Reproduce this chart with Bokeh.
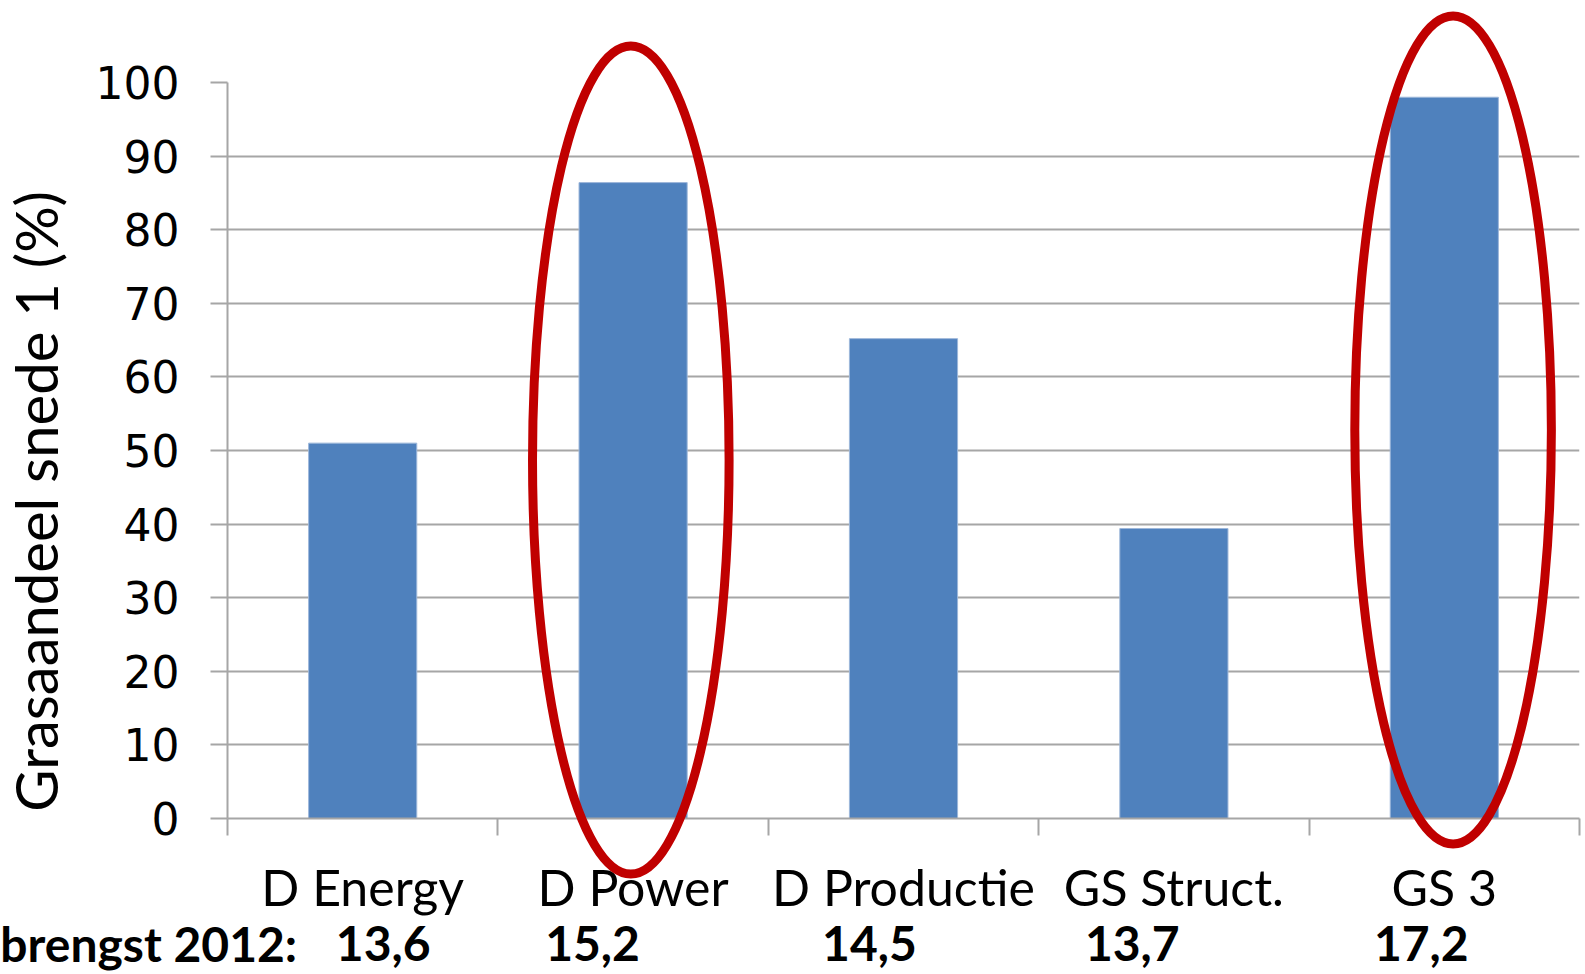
import math
from bokeh.plotting import figure
from bokeh.models import Range1d, FixedTicker, CustomJSTickFormatter
from bokeh.embed import file_html
from bokeh.resources import INLINE
from bokeh.core.properties import value

# ---- data ----
categories = ["D Energy", "D Power", "D Productie", "GS Struct.", "GS 3"]
grass_share = [51.0, 86.4, 65.2, 39.4, 98.0]          # Grasaandeel snede 1 (%)
yield_2012 = ["13,6", "15,2", "14,5", "13,7", "17,2"]  # opbrengst 2012
yield_title = "brengst 2012:"
y_ticks = [0, 10, 20, 30, 40, 50, 60, 70, 80, 90, 100]
highlighted = ["D Power", "GS 3"]
y_title = "Grasaandeel snede 1 (%)"

# ---- layout / style constants ----
W, H = 1585, 974
BLUE = "#4F81BD"
RED = "#C00000"
GRID = "#A6A6A6"
CAT_FONT = "Lato"

idx = {c: i for i, c in enumerate(categories)}
centers = [i + 0.5 for i in range(len(categories))]

p = figure(width=W, height=H, x_range=Range1d(0, 5), y_range=Range1d(0, 100),
           output_backend="svg", toolbar_location=None,
           min_border_left=227, min_border_right=6, min_border_top=82,
           min_border_bottom=156)
p.outline_line_color = None
p.background_fill_color = "white"
p.border_fill_color = "white"

# grid
p.xgrid.visible = False
p.ygrid.ticker = FixedTicker(ticks=y_ticks)
p.ygrid.grid_line_color = GRID
p.ygrid.grid_line_width = 2

# y axis
yax = p.yaxis[0]
yax.ticker = FixedTicker(ticks=y_ticks)
yax.bounds = (0, 100)
yax.axis_line_color = GRID
yax.axis_line_width = 2
yax.major_tick_out = 17
yax.major_tick_in = 0
yax.major_tick_line_color = GRID
yax.major_tick_line_width = 2
yax.minor_tick_line_color = None
yax.major_label_text_font = "DejaVu Sans"
yax.major_label_text_font_size = "44px"
yax.major_label_text_color = "black"
yax.major_label_standoff = 31

# x axis
xax = p.xaxis[0]
xax.ticker = FixedTicker(ticks=centers, minor_ticks=list(range(len(categories) + 1)))
xax.formatter = CustomJSTickFormatter(args=dict(labels=categories),
                                      code="return labels[Math.floor(tick)] || ''")
xax.axis_line_color = GRID
xax.axis_line_width = 2
xax.major_tick_out = 0
xax.major_tick_in = 0
xax.minor_tick_out = 17
xax.minor_tick_in = 0
xax.minor_tick_line_color = GRID
xax.minor_tick_line_width = 2
xax.major_label_text_font = CAT_FONT
xax.major_label_text_font_size = "50px"
xax.major_label_text_color = "black"
xax.major_label_standoff = 21

# bars
p.vbar(x=centers, top=grass_share, width=0.4, bottom=0,
       fill_color=BLUE, line_color="#9DB7DA", line_width=1)

# highlight ellipses (on top of bars, allowed to overflow the frame)
ell_dx = {"D Power": -0.0085, "GS 3": 0.0325}
ell_cy = {"D Power": 48.7, "GS 3": 52.8}
ex = [idx[c] + 0.5 + ell_dx[c] for c in highlighted]
ey = [ell_cy[c] for c in highlighted]
p.ellipse(x=ex, y=ey, width=0.727, height=112.5,
          fill_color=None, line_color=RED, line_width=9, level="overlay")

# y axis title
p.text(x=[-0.71], y=[43.1], text=[y_title], angle=math.pi / 2,
       text_font=value(CAT_FONT), text_font_size="58px", text_color="black",
       text_align="center", text_baseline="alphabetic", level="overlay")

# yield row
val_dx = [0.076, -0.150, -0.126, -0.154, -0.085]
p.text(x=[c + d for c, d in zip(centers, val_dx)], y=[-17.0] * 5, text=yield_2012,
       text_font=value(CAT_FONT), text_font_style="bold", text_font_size="48px",
       text_color="black", text_align="center", text_baseline="alphabetic",
       level="overlay")
p.text(x=[-0.84], y=[-17.0], text=[yield_title],
       text_font=value(CAT_FONT), text_font_style="bold", text_font_size="48px",
       text_color="black", text_align="left", text_baseline="alphabetic",
       level="overlay")

open("out.html", "w").write(file_html(p, INLINE))
